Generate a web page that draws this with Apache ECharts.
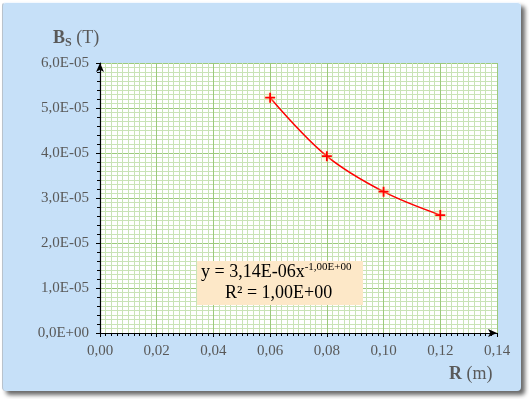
<!DOCTYPE html>
<html>
<head>
<meta charset="utf-8">
<script src="https://cdn.jsdelivr.net/npm/echarts@6/dist/echarts.min.js"></script>
<style>
  html, body { margin: 0; padding: 0; background: #ffffff; }
  #frame {
    position: absolute; left: 2px; top: 2px; width: 518px; height: 388px;
    background: #c6e0f8; border-radius: 4px;
    box-shadow: 4px 4px 4px #6a6a6a;
    border-top: 1px solid #f4f9ff; border-left: 1px solid #b8c2cc;
  }
  #chart { position: absolute; left: 0; top: 0; width: 529px; height: 399px; }
</style>
</head>
<body>
<div id="frame"></div>
<div id="chart"></div>
<script>
  // measured points: distance R (m) and field Bs (T)
  const radius = [0.06, 0.08, 0.10, 0.12];
  const field = [5.23e-5, 3.93e-5, 3.14e-5, 2.62e-5];

  const xTicks = { min: 0, max: 0.14, interval: 0.02 };
  const yTicks = { min: 0, max: 6e-5, interval: 1e-5 };

  const textColor = '#595959';
  const serif = 'Liberation Serif';

  function sciLabel(v) {
    if (Math.abs(v) < 1e-12) return '0,0E+00';
    const exp = Math.floor(Math.log10(v) + 1e-9);
    const mant = (v / Math.pow(10, exp)).toFixed(1).replace('.', ',');
    const e = Math.abs(exp).toString().padStart(2, '0');
    return mant + 'E' + (exp < 0 ? '-' : '+') + e;
  }

  const labelRich = { t: { fontFamily: serif, fontSize: 15, color: textColor } };

  const chart = echarts.init(document.getElementById('chart'));

  const plusPath = 'path://M0,4.1 H10 V5.9 H0 Z M4.1,0 H5.9 V10 H4.1 Z';

  chart.setOption({
    animation: false,
    textStyle: { fontFamily: serif },
    grid: { left: 100, right: 32, top: 63, bottom: 66, show: true, backgroundColor: '#ffffff', borderWidth: 0 },
    title: [
      {
        text: '{b|B}{s|S}{n| (T)}',
        left: 48, top: 22,
        textStyle: {
          rich: {
            b: { fontFamily: serif, fontSize: 18, fontWeight: 'bold', color: textColor },
            s: { fontFamily: serif, fontSize: 12, color: textColor, padding: [10, 0, 0, 0] },
            n: { fontFamily: serif, fontSize: 18, fontWeight: 'normal', color: textColor }
          }
        }
      },
      {
        text: '{b|R}{n| (m)}',
        left: 444, top: 360,
        textStyle: {
          rich: {
            b: { fontFamily: serif, fontSize: 18, fontWeight: 'bold', color: textColor },
            n: { fontFamily: serif, fontSize: 18, fontWeight: 'normal', color: textColor }
          }
        }
      }
    ],
    xAxis: {
      type: 'value',
      min: xTicks.min, max: xTicks.max, interval: xTicks.interval,
      axisLine: { show: true, onZero: false, lineStyle: { color: '#000', width: 1.2 }, symbol: ['none', 'arrow'], symbolSize: [6, 9] },
      axisTick: { show: true, length: 4, lineStyle: { color: '#000' } },
      minorTick: { show: true, splitNumber: 10, length: 3, lineStyle: { color: '#000' } },
      splitLine: { show: true, lineStyle: { color: '#9cc97c', width: 1 } },
      minorSplitLine: { show: true, lineStyle: { color: '#c9e3b6', width: 1 } },
      axisLabel: {
        margin: 11, fontFamily: serif, fontSize: 15, color: textColor, rich: labelRich,
        formatter: v => '{t|' + v.toFixed(2).replace('.', ',') + '}'
      }
    },
    yAxis: [
      {
        type: 'value',
        min: yTicks.min, max: yTicks.max, interval: yTicks.interval,
        axisLine: { show: true, onZero: false, lineStyle: { color: '#000', width: 1.2 }, symbol: ['none', 'arrow'], symbolSize: [6, 9] },
        axisTick: { show: true, length: 4, lineStyle: { color: '#000' } },
        minorTick: { show: false, splitNumber: 10 },
        splitLine: { show: true, lineStyle: { color: '#9cc97c', width: 1 } },
        minorSplitLine: { show: true, lineStyle: { color: '#c9e3b6', width: 1 } },
        axisLabel: {
          margin: 11, fontFamily: serif, fontSize: 15, color: textColor, rich: labelRich,
          formatter: v => '{t|' + sciLabel(v) + '}'
        }
      },
      {
        type: 'value', position: 'left',
        min: yTicks.min, max: yTicks.max, interval: yTicks.interval,
        axisLine: { show: false },
        axisTick: { show: false },
        minorTick: { show: true, splitNumber: 5, length: 3, lineStyle: { color: '#000' } },
        splitLine: { show: false },
        axisLabel: { show: false }
      }
    ],
    graphic: [
      {
        type: 'rect', left: 197, top: 261, z: 100,
        shape: { width: 166, height: 44 },
        style: { fill: '#fde8c8' }
      },
      {
        type: 'text', left: 201, top: 262, z: 101,
        style: {
          text: '{m|y = 3,14E-06x}{p|-1,00E+00}\n{c|R² = 1,00E+00}',
          rich: {
            m: { fontFamily: serif, fontSize: 18, color: '#ff0000', lineHeight: 21 },
            p: { fontFamily: serif, fontSize: 11, color: '#ff0000', padding: [0, 0, 10, 0] },
            c: { fontFamily: serif, fontSize: 18, color: '#ff0000', lineHeight: 21, padding: [0, 0, 0, 24] }
          }
        }
      }
    ],
    series: [{
      type: 'line',
      data: radius.map((r, i) => [r, field[i]]),
      smooth: 0.35,
      symbol: plusPath,
      symbolSize: 10,
      showSymbol: true,
      lineStyle: { color: '#ff0000', width: 1.5 },
      itemStyle: { color: '#ff0000', shadowBlur: 5, shadowColor: 'rgba(255,220,140,1)' },
      z: 5
    }]
  });
</script>
</body>
</html>
